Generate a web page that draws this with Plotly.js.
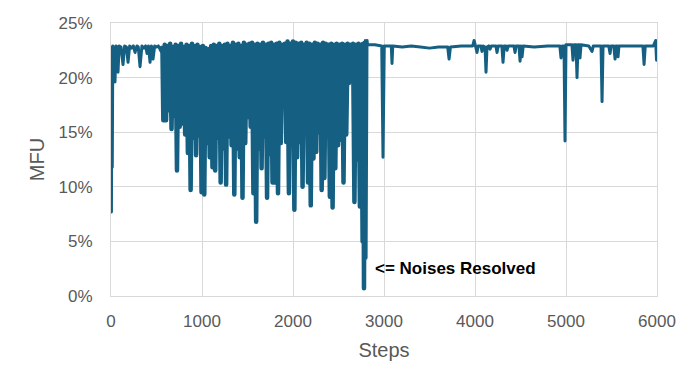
<!DOCTYPE html>
<html>
<head>
<meta charset="utf-8">
<script src="https://cdn.plot.ly/plotly-3.0.1.min.js"></script>
<style>
  html, body { margin: 0; padding: 0; background: #fff; }
  #mfu { width: 698px; height: 389px; }
  /* rounded joins keep the dense spikes solid near the top */
  #mfu .scatterlayer path.js-line { stroke-linejoin: round; }
</style>
</head>
<body>
<div id="mfu"></div>
<script>
// MFU (%) per training step
var startSteps = [0, 5, 10, 14, 20, 30, 44, 55, 70, 77, 90, 110, 132, 150, 170, 187, 205, 225, 245, 264,
  285, 300, 319, 340, 360, 380, 396, 412, 429, 445, 462, 480, 500, 520, 550, 565];
var startMfu = [22.6, 7.7, 22.8, 11.8, 22.9, 22.7, 19.6, 22.9, 22.8, 20.5, 22.9, 22.8, 21.2, 22.9, 22.8, 21.4, 22.9, 22.7, 22.9, 22.3,
  22.9, 22.8, 21.0, 22.9, 22.7, 22.9, 22.2, 22.9, 21.4, 22.9, 21.7, 22.9, 22.8, 22.9, 22.4, 22.9];

// noisy stretch before the fix
var noisySteps = [
  575, 590, 605, 620, 635, 650, 665, 680, 695, 710, 725, 740, 755, 770, 785, 800, 815, 830, 845, 860,
  875, 890, 905, 920, 935, 950, 965, 980, 995, 1010, 1025, 1040, 1055, 1070, 1085, 1100, 1115, 1130, 1145, 1160,
  1175, 1190, 1205, 1220, 1235, 1250, 1265, 1280, 1295, 1310, 1325, 1340, 1355, 1370, 1385, 1400, 1415, 1430, 1445, 1460,
  1475, 1490, 1505, 1520, 1535, 1550, 1565, 1580, 1595, 1610, 1625, 1640, 1655, 1670, 1685, 1700, 1715, 1730, 1745, 1760,
  1775, 1790, 1805, 1820, 1835, 1850, 1865, 1880, 1895, 1910, 1925, 1940, 1955, 1970, 1985, 2000, 2015, 2030, 2045, 2060,
  2075, 2090, 2105, 2120, 2135, 2150, 2165, 2180, 2195, 2210, 2225, 2240, 2255, 2270, 2285, 2300, 2315, 2330, 2345, 2360,
  2375, 2390, 2405, 2420, 2435, 2450, 2465, 2480, 2495, 2510, 2525, 2540, 2555, 2570, 2585, 2600, 2615, 2630, 2645, 2660,
  2675, 2690, 2705, 2720, 2735, 2750, 2765, 2772, 2780, 2788, 2795, 2805];
var noisyMfu = [
  16.1, 23.0, 16.1, 22.9, 17.0, 23.1, 15.3, 22.8, 16.5, 23.0, 11.5, 22.9, 15.5, 23.1, 15.8, 22.8, 14.8, 23.0, 13.1, 22.9,
  9.7, 23.1, 14.5, 22.9, 12.9, 23.0, 14.7, 22.8, 9.5, 22.9, 9.3, 22.7, 14.0, 22.6, 12.7, 22.9, 11.8, 23.0, 11.5, 22.9,
  14.5, 23.1, 10.4, 22.9, 13.5, 23.0, 10.2, 23.1, 14.6, 22.9, 13.8, 23.2, 9.3, 23.0, 13.5, 23.1, 12.7, 22.9, 9.0, 23.2,
  14.0, 23.0, 16.4, 23.1, 15.5, 23.2, 9.4, 23.0, 6.8, 23.1, 13.5, 23.0, 11.7, 23.2, 14.6, 23.0, 9.0, 23.1, 13.0, 23.2,
  10.4, 23.0, 10.4, 23.1, 9.4, 23.2, 14.0, 23.0, 17.3, 23.1, 14.1, 23.3, 9.4, 23.1, 16.1, 23.3, 7.9, 23.2, 12.7, 23.1,
  14.1, 23.2, 10.0, 23.0, 15.4, 23.2, 10.4, 23.1, 8.3, 23.0, 12.6, 23.2, 13.2, 23.1, 15.0, 23.0, 9.7, 23.2, 10.8, 23.1,
  14.8, 23.0, 9.1, 23.1, 8.1, 23.0, 11.7, 23.1, 13.8, 23.0, 14.3, 23.1, 10.4, 23.0, 14.8, 23.1, 19.5, 23.0, 22.0, 23.1,
  8.6, 23.0, 12.5, 23.1, 8.2, 23.0, 5.0, 23.1, 0.7, 23.2, 3.5, 23.5];

// steady stretch after the fix
var steadySteps = [2820, 2900, 2975, 2989, 3003, 3080, 3088, 3096, 3200, 3300, 3400, 3500, 3600, 3700, 3715, 3730,
  3850, 3975, 3990, 4005, 4022, 4035, 4065, 4077, 4090, 4110, 4121, 4132, 4150, 4165, 4180, 4230, 4242, 4255,
  4295, 4308, 4321, 4340, 4352, 4365, 4428, 4440, 4452, 4483, 4495, 4506, 4517, 4530, 4650, 4800, 4932, 4945,
  4960, 4978, 4989, 5000, 5065, 5077, 5090, 5110, 5121, 5132, 5145, 5154, 5165, 5250, 5286, 5300, 5385, 5396,
  5407, 5470, 5484, 5495, 5525, 5539, 5550, 5562, 5572, 5582, 5700, 5845, 5858, 5871, 5960, 5985, 5995, 6000];
var steadyMfu = [23.0, 23.0, 22.9, 12.7, 22.9, 22.9, 21.3, 22.9, 22.8, 22.9, 22.8, 22.7, 22.8, 22.8, 21.7, 22.8,
  22.9, 22.9, 23.4, 22.9, 22.3, 22.9, 22.9, 22.4, 22.9, 22.8, 20.5, 22.8, 22.9, 22.6, 22.9, 22.9, 22.3, 22.9,
  22.9, 21.4, 22.9, 22.9, 22.5, 22.9, 22.9, 22.3, 22.9, 22.9, 21.5, 22.9, 21.9, 22.9, 22.8, 22.9, 22.9, 21.8,
  22.9, 22.9, 14.2, 23.0, 23.0, 21.6, 23.0, 23.0, 20.0, 23.0, 23.0, 21.8, 23.0, 22.9, 22.4, 22.9, 22.9, 17.8,
  22.9, 22.9, 22.2, 22.9, 22.9, 21.7, 22.9, 22.9, 21.9, 22.9, 22.9, 22.9, 21.2, 22.9, 22.9, 23.4, 21.6, 23.1];

var color = '#156082';

// each stretch is its own trace, joined to the previous one's last point
function stretch(xs, ys, prevX, prevY, width) {
  var x = xs, y = ys;
  if (prevX) {
    x = [prevX[prevX.length - 1]].concat(xs);
    y = [prevY[prevY.length - 1]].concat(ys);
  }
  return {
    x: x,
    y: y,
    mode: 'lines',
    type: 'scatter',
    line: {color: color, width: width, simplify: false},
    hoverinfo: 'skip'
  };
}

var data = [
  stretch(startSteps, startMfu, null, null, 3),
  stretch(noisySteps, noisyMfu, startSteps, startMfu, 4.5),
  stretch(steadySteps, steadyMfu, noisySteps, noisyMfu, 3)
];

var grid = '#d9d9d9';

var layout = {
  width: 698,
  height: 389,
  margin: {l: 111, r: 41, t: 23, b: 93},
  paper_bgcolor: '#fff',
  plot_bgcolor: '#fff',
  showlegend: false,
  font: {family: 'Liberation Sans, Arial, sans-serif', size: 17, color: '#595959'},
  xaxis: {
    range: [0, 6000],
    tick0: 0,
    dtick: 1000,
    showgrid: true,
    gridcolor: grid,
    zeroline: false,
    showline: true,
    mirror: true,
    linecolor: grid,
    ticks: '',
    ticklabelstandoff: 10,
    title: {text: 'Steps', standoff: 12}
  },
  yaxis: {
    range: [0, 25],
    dtick: 5,
    ticksuffix: '%',
    showgrid: true,
    gridcolor: grid,
    zeroline: false,
    showline: true,
    mirror: true,
    linecolor: grid,
    ticks: '',
    ticklabelstandoff: 14,
    title: {text: 'MFU', standoff: 8}
  },
  annotations: [{
    x: 2880,
    y: 2.55,
    xref: 'x',
    yref: 'y',
    xanchor: 'left',
    yanchor: 'middle',
    showarrow: false,
    text: '<b><= Noises Resolved</b>',
    font: {family: 'Liberation Sans, Arial, sans-serif', size: 17, color: '#000'}
  }]
};

Plotly.newPlot('mfu', data, layout, {displayModeBar: false, staticPlot: true});
</script>
</body>
</html>
